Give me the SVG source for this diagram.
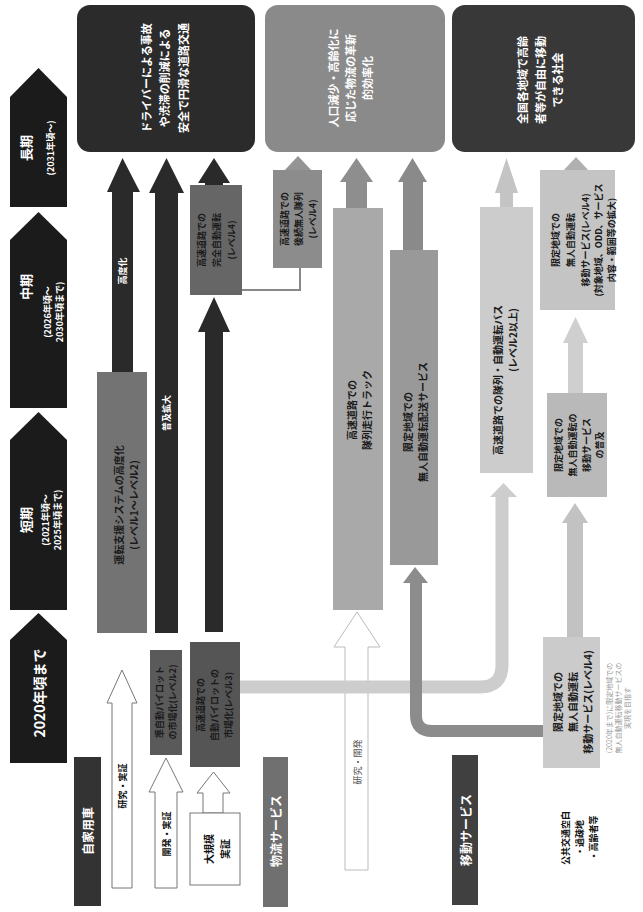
<svg xmlns="http://www.w3.org/2000/svg" width="643" height="912" viewBox="0 0 643 912">
<style>
text{font-family:"Noto Sans CJK JP","Noto Sans",sans-serif;dominant-baseline:central;text-anchor:middle}
.w{fill:#fff;font-weight:bold}
.k{fill:#111;font-weight:bold}
.d{fill:#1a1a1a;font-weight:bold}
.t{fill:#1b1b1b}
.lbl{font-size:12px}
.s{font-size:9px}
.m{font-size:10px}
.g{font-size:11px}
</style>
<rect width="643" height="912" fill="#fff"/>
<!-- timeline -->
<g id="timeline">
<g id="t2020"><polygon class="t" points="10,763 10,640 38.5,613 67,640 67,763"/>
<text class="w" font-size="14" transform="translate(39,693) rotate(-90)">2020年頃まで</text></g>
<g id="tshort"><polygon class="t" points="10,610 10,440 38.5,412 67,440 67,610"/>
<text class="w" font-size="13" transform="translate(25,520) rotate(-90)">短期</text>
<text class="w" font-size="9" transform="translate(45,520) rotate(-90)"><tspan x="0" dy="0">(2021年頃～</tspan><tspan x="0" dy="12">2025年頃まで)</tspan></text></g>
<g id="tmid"><polygon class="t" points="10,408 10,240 38.5,212 67,240 67,408"/>
<text class="w" font-size="13" transform="translate(25,287) rotate(-90)">中期</text>
<text class="w" font-size="9" transform="translate(47,312) rotate(-90)"><tspan x="0" dy="0">(2026年頃～</tspan><tspan x="0" dy="12">2030年頃まで)</tspan></text></g>
<g id="tlong"><polygon class="t" points="10,207 10,97 38.5,68 67,97 67,207"/>
<text class="w" font-size="13" transform="translate(25,148) rotate(-90)">長期</text>
<text class="w" font-size="9" transform="translate(50,148) rotate(-90)">(2031年頃～)</text></g>
</g>
<!-- row labels -->
<g id="row-private"><rect x="74" y="757" width="27" height="149" fill="#333"/><text class="w lbl" transform="translate(87.5,831) rotate(-90)">自家用車</text></g>
<g id="row-logistics"><rect x="263" y="757" width="25" height="150" fill="#707070"/><text class="w lbl" transform="translate(275.5,831) rotate(-90)">物流サービス</text></g>
<g id="row-mobility"><rect x="452" y="755" width="26" height="150" fill="#404040"/><text class="w lbl" transform="translate(465,830) rotate(-90)">移動サービス</text></g>
<!-- goals -->
<g id="goal-private"><rect x="77" y="5" width="178" height="147" rx="13" fill="#2b2b2b"/>
<text class="w g" transform="translate(146,78) rotate(-90)"><tspan x="0" dy="0">ドライバーによる事故</tspan><tspan x="0" dy="18">や渋滞の削減による</tspan><tspan x="0" dy="19">安全で円滑な道路交通</tspan></text></g>
<g id="goal-logistics"><rect x="265" y="5" width="180" height="147" rx="13" fill="#8a8a8a"/>
<text class="w g" transform="translate(333,78) rotate(-90)"><tspan x="0" dy="0">人口減少・高齢化に</tspan><tspan x="0" dy="17">応じた物流の革新</tspan><tspan x="0" dy="17">的効率化</tspan></text></g>
<g id="goal-mobility"><rect x="452" y="5" width="183" height="147" rx="13" fill="#383838"/>
<text class="w g" transform="translate(522,80) rotate(-90)"><tspan x="0" dy="0">全国各地域で高齢</tspan><tspan x="0" dy="18">者等が自由に移動</tspan><tspan x="0" dy="17">できる社会</tspan></text></g>
<!-- connectors / arrows -->
<g id="connectors">
<polygon fill="#2a2a2a" points="112,372 112,192 107,192 122.5,158 140,192 133,192 133,372"/>
<polygon fill="#2a2a2a" points="155,633 155,193 149,193 166.5,158 184,193 178,193 178,633"/>
<polygon fill="#2a2a2a" points="205,185 205,183 198,183 214,158 230,183 223,183 223,185"/>
<polygon fill="#2a2a2a" points="205,632 205,332 198,332 214,297 230,332 223,332 223,632"/>
<polygon fill="#fff" stroke="#777" stroke-width="1" points="112,888 112,703 107,703 122,670 137,703 132,703 132,888"/>
<polygon fill="#fff" stroke="#777" stroke-width="1" points="155,888 155,792 149,792 166,758 183,792 177,792 177,888"/>
<polygon fill="#fff" stroke="#777" stroke-width="1" points="203,813 203,793 197,793 213.5,772 230,793 223,793 223,813"/>
<polygon fill="#fff" stroke="#bbb" stroke-width="1" points="345,870 345,647 334,647 357,612 380,647 368,647 368,870"/>
<polyline fill="none" stroke="#888" stroke-width="2" points="242,290 300,290 300,268"/>
<polygon fill="#959595" points="288,170 288,172 283,172 298,156 313,172 308,172 308,170"/>
<polygon fill="#8e8e8e" points="346,208 346,182 340,182 356.5,158 373,182 367,182 367,208"/>
<polygon fill="#8a8a8a" points="403,250 403,182 398,182 412.5,158 427,182 423,182 423,250"/>
<polygon fill="#c4c4c4" points="500,208 500,193 495,193 506.5,158 518,193 513,193 513,208"/>
<polygon fill="#b0b0b0" points="568,172 562,172 576,157 590,172 584,172 584,170 568,170"/>
<polygon fill="#cfcfcf" points="568,393 568,343 563,343 575.5,317 588,343 583,343 583,393"/>
<polygon fill="#c2c2c2" points="567,637 567,523 562,523 575,503 588,523 583,523 583,637"/>
<path d="M240,687 H480 Q502,687 502,665 V497" fill="none" stroke="#cdcdcd" stroke-width="13"/>
<polygon fill="#cdcdcd" points="490,497 503.5,483 517,497"/>
<path d="M543,731 H432 Q416,731 416,715 V583" fill="none" stroke="#8c8c8c" stroke-width="12"/>
<polygon fill="#8c8c8c" points="403,583 415,567 428,583"/>
</g>
<!-- private nodes -->
<g id="p-l12"><rect x="97" y="372" width="50" height="261" fill="#737373"/>
<text class="d m" transform="translate(118,505) rotate(-90)"><tspan x="0" dy="0">運転支援システムの高度化</tspan><tspan x="0" dy="15">(レベル1～レベル2)</tspan></text></g>
<text class="w s" transform="translate(122.5,271) rotate(-90)">高度化</text>
<text class="w s" transform="translate(166.5,413) rotate(-90)">普及拡大</text>
<g id="p-l4"><rect x="190" y="185" width="52" height="110" fill="#666"/>
<text class="d s" transform="translate(201,240) rotate(-90)"><tspan x="0" dy="0">高速道路での</tspan><tspan x="0" dy="15">完全自動運転</tspan><tspan x="0" dy="15">(レベル4)</tspan></text></g>
<g id="p-l2"><rect x="150" y="650" width="32" height="105" fill="#5a5a5a"/>
<text class="d s" transform="translate(159,702) rotate(-90)"><tspan x="0" dy="0">準自動パイロット</tspan><tspan x="0" dy="13">の市場化(レベル2)</tspan></text></g>
<g id="p-l3"><rect x="190" y="642" width="50" height="125" fill="#555"/>
<text class="d s" transform="translate(200,705) rotate(-90)"><tspan x="0" dy="0">高速道路での</tspan><tspan x="0" dy="14">自動パイロットの</tspan><tspan x="0" dy="14">市場化(レベル3)</tspan></text></g>
<g id="p-demo"><rect x="190" y="813" width="50" height="72" fill="#fff" stroke="#777"/>
<text class="k m" transform="translate(208,849) rotate(-90)"><tspan x="0" dy="0">大規模</tspan><tspan x="0" dy="16">実証</tspan></text></g>
<text class="k s" transform="translate(122,786) rotate(-90)">研究・実証</text>
<text class="k s" transform="translate(166,834) rotate(-90)">開発・実証</text>
<!-- logistics nodes -->
<g id="l-platoon4"><rect x="273" y="170" width="49" height="98" fill="#8c8c8c"/>
<text class="d s" transform="translate(284,219) rotate(-90)"><tspan x="0" dy="0">高速道路での</tspan><tspan x="0" dy="14">後続無人隊列</tspan><tspan x="0" dy="14">(レベル4)</tspan></text></g>
<g id="l-platoon"><rect x="333" y="208" width="50" height="402" fill="#a9a9a9"/>
<text class="d m" transform="translate(351,410) rotate(-90)"><tspan x="0" dy="0">高速道路での</tspan><tspan x="0" dy="15">隊列走行トラック</tspan></text></g>
<text class="s" transform="translate(357,762) rotate(-90)" fill="#555">研究・開発</text>
<g id="l-delivery"><rect x="390" y="250" width="48" height="315" fill="#999"/>
<text class="d m" transform="translate(407,422) rotate(-90)"><tspan x="0" dy="0">限定地域での</tspan><tspan x="0" dy="15">無人自動運転配送サービス</tspan></text></g>
<!-- mobility nodes -->
<g id="m-bus"><rect x="480" y="207" width="53" height="266" fill="#cccccc"/>
<text class="d m" transform="translate(497,380) rotate(-90)"><tspan x="0" dy="0">高速道路での隊列・自動運転バス</tspan><tspan x="40" dy="15">(レベル2以上)</tspan></text></g>
<g id="m-expand"><rect x="540" y="170" width="75" height="140" fill="#c4c4c4"/>
<text class="d s" transform="translate(555,240) rotate(-90)"><tspan x="0" dy="0">限定地域での</tspan><tspan x="0" dy="15">無人自動運転</tspan><tspan x="0" dy="15">移動サービス(レベル4)</tspan><tspan x="0" dy="13">(対象地域、ODD、サービス</tspan><tspan x="0" dy="13">内容・範囲等の拡大)</tspan></text></g>
<g id="m-spread"><rect x="547" y="393" width="60" height="104" fill="#b9b9b9"/>
<text class="d s" transform="translate(558,445) rotate(-90)"><tspan x="0" dy="0">限定地域での</tspan><tspan x="0" dy="14">無人自動運転の</tspan><tspan x="0" dy="14">移動サービス</tspan><tspan x="0" dy="13">の普及</tspan></text></g>
<g id="m-l4"><rect x="543" y="637" width="57" height="131" fill="#cbcbcb"/>
<text class="d m" transform="translate(557,702) rotate(-90)"><tspan x="0" dy="0">限定地域での</tspan><tspan x="0" dy="15">無人自動運転</tspan><tspan x="0" dy="15">移動サービス(レベル4)</tspan></text></g>
<text fill="#999" font-size="7" transform="translate(609,708) rotate(-90)"><tspan x="0" dy="0">(2020年まで)に限定地域での</tspan><tspan x="0" dy="9">無人自動運転移動サービスの</tspan><tspan x="0" dy="9">実現を目指す</tspan></text>
<text class="k s" transform="translate(565,838) rotate(-90)"><tspan x="0" dy="0">公共交通空白</tspan><tspan x="0" dy="14">・過疎地</tspan><tspan x="0" dy="14">・高齢者等</tspan></text>
</svg>
